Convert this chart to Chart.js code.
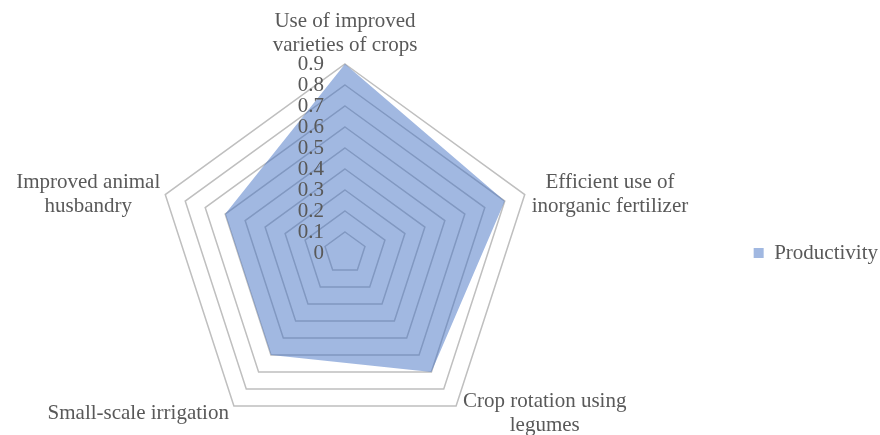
<!DOCTYPE html>
<html>
<head>
<meta charset="utf-8">
<script src="https://cdn.jsdelivr.net/npm/chart.js@4.4.1/dist/chart.umd.min.js"></script>
<style>
    html, body { margin: 0; padding: 0; background: #ffffff; overflow: hidden; }
    #contenedor { width: 888px; height: 442px; }
</style>
</head>
<body>
<div id="contenedor"><canvas id="grafica_1"></canvas></div>
<script>
const categorias = [
    ['Use of improved', 'varieties of crops'],
    ['Efficient use of', 'inorganic fertilizer'],
    ['Crop rotation using', 'legumes'],
    ['Small-scale irrigation'],
    ['Improved animal', 'husbandry']
];
const productividad = [0.9, 0.8, 0.7, 0.6, 0.6];
const etiquetasEje = ['0', '0.1', '0.2', '0.3', '0.4', '0.5', '0.6', '0.7', '0.8', '0.9'];

const fuente = '"Liberation Serif", "Times New Roman", serif';
const gris = '#595959';

Chart.defaults.font.family = fuente;
Chart.defaults.color = gris;

// tick labels and category labels, placed the way Excel does it
const pintarEtiquetas = {
    id: 'pintarEtiquetas',
    afterDraw(chart) {
        const ctx = chart.ctx;
        const escala = chart.scales.r;
        ctx.save();
        ctx.font = '21px ' + fuente;
        ctx.fillStyle = gris;

        ctx.textAlign = 'right';
        ctx.textBaseline = 'middle';
        etiquetasEje.forEach(t => {
            const y = escala.yCenter - escala.getDistanceFromCenterForValue(parseFloat(t));
            ctx.fillText(t, escala.xCenter - 21, y);
        });

        const altoLinea = 24;
        ctx.textAlign = 'center';
        categorias.forEach((lineas, i) => {
            const p = escala.getPointPositionForValue(i, escala.max);
            const ancho = Math.max(...lineas.map(l => ctx.measureText(l).width));
            const alto = lineas.length * altoLinea;
            const dx = p.x - escala.xCenter;
            const dy = p.y - escala.yCenter;
            let cx, arriba;
            if (Math.abs(dx) < 1) {
                cx = p.x;
                arriba = p.y - 7 - alto;
            } else {
                cx = dx > 0 ? p.x + 7 + ancho / 2 : p.x - 5 - ancho / 2;
                arriba = dy < 0 ? p.y - alto / 2 : p.y + 8 - alto / 2;
            }
            lineas.forEach((l, j) => ctx.fillText(l, cx, arriba + altoLinea * j + altoLinea / 2));
        });
        ctx.restore();
    }
};

const ctx = document.getElementById('grafica_1').getContext('2d');

let myChart = new Chart(ctx, {
    type: 'radar',
    data: {
        labels: categorias,
        datasets: [{
            label: 'Productivity',
            data: productividad,
            backgroundColor: 'rgba(68, 114, 196, 0.5)',
            borderColor: 'transparent',
            borderWidth: 0,
            pointRadius: 0,
            pointHoverRadius: 0,
            tension: 0
        }]
    },
    options: {
        responsive: true,
        maintainAspectRatio: false,
        animation: false,
        layout: {
            padding: { left: 8, right: 0, top: 64, bottom: 0 }
        },
        plugins: {
            legend: {
                position: 'right',
                labels: {
                    boxWidth: 10,
                    boxHeight: 10,
                    padding: 70,
                    color: gris,
                    font: { size: 21, family: fuente }
                }
            },
            tooltip: { enabled: false }
        },
        scales: {
            r: {
                min: 0,
                max: 0.9,
                ticks: { display: false, stepSize: 0.1 },
                grid: { color: '#bfbfbf', lineWidth: 1.5 },
                angleLines: { display: false },
                pointLabels: { display: false }
            }
        }
    },
    plugins: [pintarEtiquetas]
});
</script>
</body>
</html>
